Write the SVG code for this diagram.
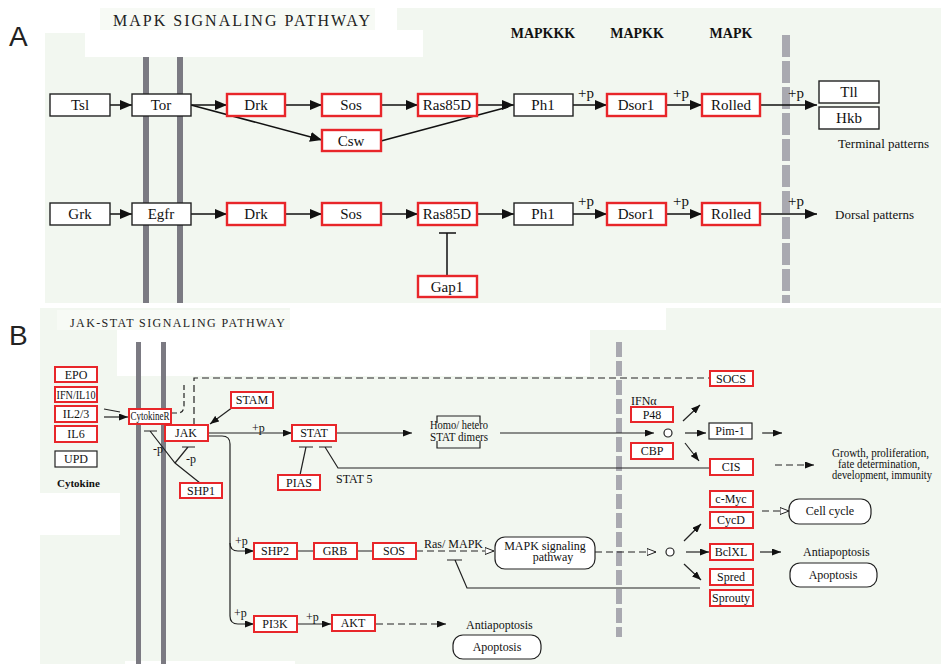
<svg xmlns="http://www.w3.org/2000/svg" width="941" height="664" viewBox="0 0 941 664" font-family="Liberation Serif, serif">
<style>
.bg{fill:#f2f7f0}
.pale{fill:#f7faf5}
.wh{fill:#ffffff}
.mem{fill:#7b7a82}
.rb{fill:#ffffff;stroke:#e8262a;stroke-width:2.4}
.bb{fill:#ffffff;stroke:#222;stroke-width:1.4}
.rs{fill:#ffffff;stroke:#e8262a;stroke-width:2}
.bs{fill:#ffffff;stroke:#222;stroke-width:1.2}
.ta{font-family:Liberation Serif,serif;font-size:15px;fill:#111;text-anchor:middle}
.tb{font-family:Liberation Serif,serif;font-size:12px;fill:#111;text-anchor:middle}
.tl{font-family:Liberation Serif,serif;font-size:12px;fill:#111}
.hd{font-family:Liberation Serif,serif;font-size:14px;font-weight:bold;fill:#111;text-anchor:middle}
.pl{font-family:Liberation Sans,Arial,sans-serif;font-size:28px;fill:#222}
.ea{fill:none;stroke:#111;stroke-width:1.5}
.eb{fill:none;stroke:#222;stroke-width:1.2}
.dash{stroke-dasharray:7 4}
</style>
<defs>
<marker id="ah" viewBox="0 0 12 10" refX="12" refY="5" markerWidth="12" markerHeight="10" orient="auto" markerUnits="userSpaceOnUse"><path d="M0,0 L12,5 L0,10 z" fill="#111"/></marker>
<marker id="bh" viewBox="0 0 9 7" refX="9" refY="3.5" markerWidth="9" markerHeight="7" orient="auto" markerUnits="userSpaceOnUse"><path d="M0,0 L9,3.5 L0,7 z" fill="#111"/></marker>
<marker id="oh" viewBox="0 0 10 8" refX="9.5" refY="4" markerWidth="10" markerHeight="8" orient="auto" markerUnits="userSpaceOnUse"><path d="M0.5,0.5 L9.5,4 L0.5,7.5 z" fill="#fff" stroke="#222" stroke-width="1"/></marker>
</defs>
<rect width="941" height="664" fill="#ffffff"/>
<g id="panelA-bg">
<rect class="bg" x="45" y="33" width="896" height="270"/>
<rect class="bg" x="397" y="8" width="544" height="30"/>
<rect class="pale" x="100" y="8" width="275" height="22"/>
<rect class="wh" x="85" y="30" width="338" height="27"/>
<rect class="mem" x="143" y="57" width="6" height="246"/>
<rect class="mem" x="177" y="57" width="6" height="246"/>
<line x1="786" y1="35" x2="786" y2="303" stroke="#a9a9b0" stroke-width="8" stroke-dasharray="22 4"/>
</g>
<g id="panelB-bg">
<rect class="bg" x="40" y="308" width="901" height="356"/>
<rect class="pale" x="57" y="310" width="233" height="20"/>
<rect class="wh" x="290" y="308" width="376" height="22"/>
<rect class="wh" x="117" y="330" width="473" height="46"/>
<rect class="wh" x="40" y="493" width="80" height="42"/>
<rect class="wh" x="125" y="661" width="170" height="3"/>
<rect class="mem" x="136" y="342" width="5" height="322"/>
<rect class="mem" x="161" y="342" width="5" height="322"/>
<line x1="619" y1="342" x2="619" y2="637" stroke="#a9a9b0" stroke-width="6" stroke-dasharray="15 4"/>
</g>
<g id="labels">
<text class="pl" x="9" y="46">A</text>
<text class="pl" x="9" y="345">B</text>
<text x="113" y="26" font-family="Liberation Serif, serif" font-size="16" fill="#222" textLength="257" lengthAdjust="spacing">MAPK SIGNALING PATHWAY</text>
<text x="70" y="327" font-family="Liberation Serif, serif" font-size="12" fill="#222" textLength="215" lengthAdjust="spacing">JAK-STAT SIGNALING PATHWAY</text>
<text class="hd" x="543" y="38">MAPKKK</text>
<text class="hd" x="637" y="38">MAPKK</text>
<text class="hd" x="731" y="38">MAPK</text>
<text class="ta" x="586" y="98">+p</text>
<text class="ta" x="681" y="98">+p</text>
<text class="ta" x="796" y="98">+p</text>
<text class="ta" x="586" y="206">+p</text>
<text class="ta" x="681" y="206">+p</text>
<text class="ta" x="796" y="206">+p</text>
<text x="838" y="148" font-family="Liberation Serif, serif" font-size="13" fill="#111">Terminal patterns</text>
<text x="835" y="219" font-family="Liberation Serif, serif" font-size="13" fill="#111">Dorsal patterns</text>
<text x="57" y="487" font-family="Liberation Serif, serif" font-size="11" font-weight="bold" fill="#111">Cytokine</text>
<text class="tl" x="153" y="453">-p</text>
<text class="tl" x="186" y="463">-p</text>
<text class="tl" x="252" y="432">+p</text>
<text class="tl" x="336" y="483">STAT 5</text>
<text class="tl" x="631" y="405">IFNα</text>
<text class="tl" x="832" y="457" font-size="10" textLength="97" lengthAdjust="spacingAndGlyphs">Growth, proliferation,</text>
<text class="tl" x="838" y="468" font-size="10" textLength="82" lengthAdjust="spacingAndGlyphs">fate determination,</text>
<text class="tl" x="832" y="479" font-size="10" textLength="100" lengthAdjust="spacingAndGlyphs">development, immunity</text>
<text class="tl" x="424" y="548">Ras/ MAPK</text>
<text class="tl" x="235" y="545">+p</text>
<text class="tl" x="234" y="617">+p</text>
<text class="tl" x="306" y="621">+p</text>
<text class="tl" x="803" y="556">Antiapoptosis</text>
<text class="tl" x="466" y="629">Antiapoptosis</text>
</g>
<g id="connectors">
<path class="ea" d="M110,105 H132" marker-end="url(#ah)"/>
<path class="ea" d="M191,105 H227" marker-end="url(#ah)"/>
<path class="ea" d="M191,105 L322,140" marker-end="url(#ah)" stroke-width="1.2"/>
<path class="ea" d="M285,105 H322" marker-end="url(#ah)"/>
<path class="ea" d="M381,105 H418" marker-end="url(#ah)"/>
<path class="ea" d="M477,105 H514" marker-end="url(#ah)"/>
<path class="ea" d="M381,141 L508,107" stroke-width="1.2"/>
<path class="ea" d="M573,105 H607" marker-end="url(#ah)"/>
<path class="ea" d="M666,105 H702" marker-end="url(#ah)"/>
<path class="ea" d="M760,105 H817" marker-end="url(#ah)"/>
<path class="ea" d="M110,214 H132" marker-end="url(#ah)"/>
<path class="ea" d="M191,214 H227" marker-end="url(#ah)"/>
<path class="ea" d="M285,214 H322" marker-end="url(#ah)"/>
<path class="ea" d="M381,214 H418" marker-end="url(#ah)"/>
<path class="ea" d="M477,214 H514" marker-end="url(#ah)"/>
<path class="ea" d="M573,214 H607" marker-end="url(#ah)"/>
<path class="ea" d="M666,214 H702" marker-end="url(#ah)"/>
<path class="ea" d="M760,214 H817" marker-end="url(#ah)"/>
<path class="ea" d="M447,276 V233 M439,233 H456"/>
<path class="eb" d="M104,409 L120,412"/>
<path class="eb" d="M104,417 H128" marker-end="url(#bh)"/>
<path class="eb" d="M172,413 H178 Q184,413 184,405 V382" stroke-dasharray="5 3"/>
<path class="eb dash" d="M194,425 V378 H710"/>
<path class="eb" d="M233,407 L210,424" marker-end="url(#bh)"/>
<path class="eb" d="M208,433 H292" marker-end="url(#bh)"/>
<path class="eb" d="M200,483 L175,463 L150,431 M144,431 H157"/>
<path class="eb" d="M175,463 L188,447 M182,447 H195"/>
<path class="eb" d="M300,475 L306,447 M299,447 H313"/>
<path class="eb" d="M710,468 H338 L325,447 M319,447 H332"/>
<path class="eb" d="M336,433 H412" marker-end="url(#bh)"/>
<path class="eb" d="M500,433 H654" marker-end="url(#bh)"/>
<path class="eb" d="M683,421 L700,405" marker-end="url(#bh)"/>
<path class="eb" d="M685,433 H706" marker-end="url(#bh)"/>
<path class="eb" d="M685,443 L699,461" marker-end="url(#bh)"/>
<path class="eb" d="M762,433 H782" marker-end="url(#bh)"/>
<path class="eb dash" d="M775,465 H814" marker-end="url(#bh)"/>
<path class="eb" d="M208,436 H222 Q230,436 230,444 V543 Q230,551 238,551 H254" marker-end="url(#bh)"/>
<path class="eb" d="M230,543 V616 Q230,624 238,624 H254" marker-end="url(#bh)"/>
<path class="eb" d="M297,551 H314 M357,551 H373"/>
<path class="eb dash" d="M416,551 H494" marker-end="url(#oh)"/>
<path class="eb dash" d="M595,552 H656" marker-end="url(#oh)"/>
<path class="eb" d="M684,541 L701,524" marker-end="url(#bh)"/>
<path class="eb" d="M686,552 H709" marker-end="url(#bh)"/>
<path class="eb" d="M684,564 L701,580" marker-end="url(#bh)"/>
<path class="eb" d="M760,552 H781" marker-end="url(#bh)"/>
<path class="eb dash" d="M762,511 H789" marker-end="url(#oh)"/>
<path class="eb" d="M700,588 H467 L455,560 M447,560 H462"/>
<path class="eb" d="M297,624 H331" marker-end="url(#bh)"/>
<path class="eb dash" d="M376,624 H446" marker-end="url(#bh)"/>
<circle cx="668" cy="433" r="4" fill="#fff" stroke="#222" stroke-width="1.2"/>
<circle cx="670" cy="552" r="4" fill="#fff" stroke="#222" stroke-width="1.2"/>
</g>
<g id="Tsl"><rect class="bb" x="50" y="94" width="60" height="22"/><text class="ta" x="80" y="110">Tsl</text></g>
<g id="Tor"><rect class="bb" x="132" y="94" width="59" height="22"/><text class="ta" x="161" y="110">Tor</text></g>
<g id="Drk1"><rect class="rb" x="227" y="94" width="58" height="22"/><text class="ta" x="256" y="110">Drk</text></g>
<g id="Sos1"><rect class="rb" x="322" y="94" width="59" height="22"/><text class="ta" x="351" y="110">Sos</text></g>
<g id="Ras85D1"><rect class="rb" x="418" y="94" width="59" height="22"/><text class="ta" x="447" y="110">Ras85D</text></g>
<g id="Csw"><rect class="rb" x="322" y="130" width="59" height="21"/><text class="ta" x="351" y="146">Csw</text></g>
<g id="Ph1a"><rect class="bb" x="514" y="94" width="59" height="22"/><text class="ta" x="543" y="110">Ph1</text></g>
<g id="Dsor1a"><rect class="rb" x="607" y="94" width="59" height="22"/><text class="ta" x="636" y="110">Dsor1</text></g>
<g id="Rolled1"><rect class="rb" x="702" y="94" width="58" height="22"/><text class="ta" x="731" y="110">Rolled</text></g>
<g id="Tll"><rect class="bb" x="819" y="81" width="60" height="22"/><text class="ta" x="849" y="97">Tll</text></g>
<g id="Hkb"><rect class="bb" x="819" y="107" width="60" height="22"/><text class="ta" x="849" y="123">Hkb</text></g>
<g id="Grk"><rect class="bb" x="50" y="203" width="60" height="22"/><text class="ta" x="80" y="219">Grk</text></g>
<g id="Egfr"><rect class="bb" x="132" y="203" width="59" height="22"/><text class="ta" x="161" y="219">Egfr</text></g>
<g id="Drk2"><rect class="rb" x="227" y="203" width="58" height="22"/><text class="ta" x="256" y="219">Drk</text></g>
<g id="Sos2"><rect class="rb" x="322" y="203" width="59" height="22"/><text class="ta" x="351" y="219">Sos</text></g>
<g id="Ras85D2"><rect class="rb" x="418" y="203" width="59" height="22"/><text class="ta" x="447" y="219">Ras85D</text></g>
<g id="Gap1"><rect class="rb" x="418" y="276" width="59" height="21"/><text class="ta" x="447" y="292">Gap1</text></g>
<g id="Ph1b"><rect class="bb" x="514" y="203" width="59" height="22"/><text class="ta" x="543" y="219">Ph1</text></g>
<g id="Dsor1b"><rect class="rb" x="607" y="203" width="59" height="22"/><text class="ta" x="636" y="219">Dsor1</text></g>
<g id="Rolled2"><rect class="rb" x="702" y="203" width="58" height="22"/><text class="ta" x="731" y="219">Rolled</text></g>
<g id="EPO"><rect class="rs" x="55" y="367" width="42" height="15"/><text class="tb" x="76" y="379">EPO</text></g>
<g id="IFN"><rect class="rs" x="55" y="387" width="42" height="15"/><text class="tb" x="76" y="399" font-size="11" textLength="39" lengthAdjust="spacingAndGlyphs">IFN/IL10</text></g>
<g id="IL23"><rect class="rs" x="55" y="406" width="42" height="16"/><text class="tb" x="76" y="418">IL2/3</text></g>
<g id="IL6"><rect class="rs" x="55" y="426" width="42" height="16"/><text class="tb" x="76" y="438">IL6</text></g>
<g id="UPD"><rect class="bs" x="55" y="451" width="42" height="16"/><text class="tb" x="76" y="463">UPD</text></g>
<g id="CytokineR"><rect class="rs" x="129" y="409" width="42" height="15"/><text class="tb" x="150" y="420" font-size="10" textLength="39" lengthAdjust="spacingAndGlyphs">CytokineR</text></g>
<g id="JAK"><rect class="rs" x="165" y="425" width="43" height="16"/><text class="tb" x="186" y="437">JAK</text></g>
<g id="STAM"><rect class="rs" x="231" y="392" width="42" height="16"/><text class="tb" x="252" y="404">STAM</text></g>
<g id="STAT"><rect class="rs" x="292" y="425" width="44" height="16"/><text class="tb" x="314" y="437">STAT</text></g>
<g id="SHP1"><rect class="rs" x="180" y="483" width="42" height="15"/><text class="tb" x="201" y="495">SHP1</text></g>
<g id="PIAS"><rect class="rs" x="278" y="475" width="42" height="15"/><text class="tb" x="299" y="487">PIAS</text></g>
<g id="Dimers"><path class="eb" d="M437,423 V416 H480 V423 M437,441 V448 H480 V441"/><text class="tb" x="459" y="429" font-size="10" textLength="58" lengthAdjust="spacingAndGlyphs">Homo/ hetero</text><text class="tb" x="459" y="441" font-size="10" textLength="58" lengthAdjust="spacingAndGlyphs">STAT dimers</text></g>
<g id="SOCS"><rect class="rs" x="710" y="371" width="43" height="15"/><text class="tb" x="731" y="383">SOCS</text></g>
<g id="P48"><rect class="rs" x="631" y="407" width="42" height="15"/><text class="tb" x="652" y="419">P48</text></g>
<g id="CBP"><rect class="rs" x="631" y="443" width="42" height="16"/><text class="tb" x="652" y="455">CBP</text></g>
<g id="Pim1"><rect class="bs" x="709" y="423" width="43" height="16"/><text class="tb" x="730" y="435">Pim-1</text></g>
<g id="CIS"><rect class="rs" x="710" y="459" width="43" height="16"/><text class="tb" x="731" y="471">CIS</text></g>
<g id="cMyc"><rect class="rs" x="710" y="491" width="43" height="16"/><text class="tb" x="731" y="503">c-Myc</text></g>
<g id="CycD"><rect class="rs" x="710" y="512" width="43" height="16"/><text class="tb" x="731" y="524">CycD</text></g>
<g id="CellCycle"><rect class="bs" x="789" y="499" width="82" height="25" rx="10"/><text class="tb" x="830" y="515">Cell cycle</text></g>
<g id="BclXL"><rect class="rs" x="710" y="544" width="43" height="16"/><text class="tb" x="731" y="556">BclXL</text></g>
<g id="Spred"><rect class="rs" x="710" y="569" width="43" height="16"/><text class="tb" x="731" y="581">Spred</text></g>
<g id="Sprouty"><rect class="rs" x="710" y="590" width="43" height="16"/><text class="tb" x="731" y="602" textLength="38" lengthAdjust="spacingAndGlyphs">Sprouty</text></g>
<g id="Apoptosis1"><rect class="bs" x="790" y="563" width="87" height="24" rx="10"/><text class="tb" x="833" y="579">Apoptosis</text></g>
<g id="SHP2"><rect class="rs" x="254" y="543" width="43" height="16"/><text class="tb" x="275" y="555">SHP2</text></g>
<g id="GRB"><rect class="rs" x="314" y="543" width="43" height="16"/><text class="tb" x="335" y="555">GRB</text></g>
<g id="SOS"><rect class="rs" x="373" y="543" width="43" height="16"/><text class="tb" x="394" y="555">SOS</text></g>
<g id="MAPKpath"><rect class="bs" x="495" y="537" width="100" height="32" rx="10"/><text class="tb" x="545" y="550" font-size="11">MAPK signaling</text><text class="tb" x="553" y="561" font-size="11">pathway</text></g>
<g id="PI3K"><rect class="rs" x="254" y="616" width="43" height="16"/><text class="tb" x="275" y="628">PI3K</text></g>
<g id="AKT"><rect class="rs" x="332" y="615" width="43" height="16"/><text class="tb" x="353" y="627">AKT</text></g>
<g id="Apoptosis2"><rect class="bs" x="453" y="635" width="88" height="24" rx="10"/><text class="tb" x="497" y="651">Apoptosis</text></g>
</svg>
